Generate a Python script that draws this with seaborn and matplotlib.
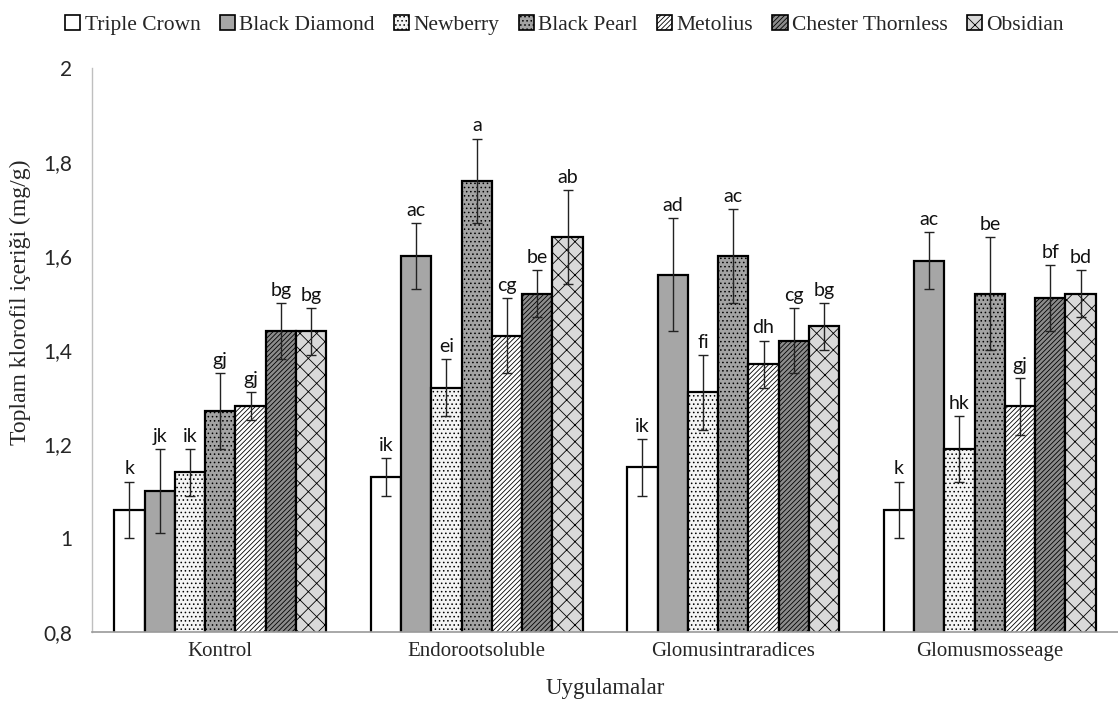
import matplotlib
matplotlib.use("Agg")
import matplotlib.pyplot as plt
from matplotlib.patches import Patch
import numpy as np
import pandas as pd
import seaborn as sns

# ---- data ----
treatments = ["Kontrol", "Endorootsoluble", "Glomusintraradices", "Glomusmosseage"]
varieties = ["Triple Crown", "Black Diamond", "Newberry", "Black Pearl",
             "Metolius", "Chester Thornless", "Obsidian"]

# chlorophyll means per variety, one value per treatment
triple_crown = [1.06, 1.13, 1.15, 1.06]
black_diamond = [1.10, 1.60, 1.56, 1.59]
newberry = [1.14, 1.32, 1.31, 1.19]
black_pearl = [1.27, 1.76, 1.60, 1.52]
metolius = [1.28, 1.43, 1.37, 1.28]
chester_thornless = [1.44, 1.52, 1.42, 1.51]
obsidian = [1.44, 1.64, 1.45, 1.52]

# standard errors
err_triple_crown = [0.06, 0.04, 0.06, 0.06]
err_black_diamond = [0.09, 0.07, 0.12, 0.06]
err_newberry = [0.05, 0.06, 0.08, 0.07]
err_black_pearl = [0.08, 0.09, 0.10, 0.12]
err_metolius = [0.03, 0.08, 0.05, 0.06]
err_chester_thornless = [0.06, 0.05, 0.07, 0.07]
err_obsidian = [0.05, 0.10, 0.05, 0.05]

# significance letters
let_triple_crown = ["k", "ik", "ik", "k"]
let_black_diamond = ["jk", "ac", "ad", "ac"]
let_newberry = ["ik", "ei", "fi", "hk"]
let_black_pearl = ["gj", "a", "ac", "be"]
let_metolius = ["gj", "cg", "dh", "gj"]
let_chester_thornless = ["bg", "be", "cg", "bf"]
let_obsidian = ["bg", "ab", "bg", "bd"]

y_ticks = [0.8, 1.0, 1.2, 1.4, 1.6, 1.8, 2.0]
y_tick_labels = ["0,8", "1", "1,2", "1,4", "1,6", "1,8", "2"]

means = [triple_crown, black_diamond, newberry, black_pearl,
         metolius, chester_thornless, obsidian]
errs = [err_triple_crown, err_black_diamond, err_newberry, err_black_pearl,
        err_metolius, err_chester_thornless, err_obsidian]
letters = [let_triple_crown, let_black_diamond, let_newberry, let_black_pearl,
           let_metolius, let_chester_thornless, let_obsidian]

rows = []
for v, m, e, l in zip(varieties, means, errs, letters):
    for t, mi, ei, li in zip(treatments, m, e, l):
        rows.append({"Uygulama": t, "Çeşit": v, "Değer": mi, "Hata": ei, "Harf": li})
df = pd.DataFrame(rows)

# fill colour and hatch per variety
fills = ["#ffffff", "#a6a6a6", "#f4f4f4", "#a3a3a3", "#ffffff", "#8c8c8c", "#d9d9d9"]
hatches = ["", "", "....", "....", "///////", "///////", "xx"]

sns.set_theme(style="white")
plt.rcParams["hatch.linewidth"] = 0.6
plt.rcParams["hatch.color"] = "black"

fig = plt.figure(figsize=(11.18, 7.04), dpi=100)
ax = fig.add_axes([0.0823, 0.1023, 0.9177, 0.8011])

sns.barplot(data=df, x="Uygulama", y="Değer", hue="Çeşit", order=treatments,
            hue_order=varieties, palette=fills, errorbar=None, width=0.826,
            edgecolor="black", linewidth=1.6, saturation=1, legend=False, ax=ax)

for cont, h, var in zip(ax.containers, hatches, varieties):
    sub = df[df["Çeşit"] == var].set_index("Uygulama").loc[treatments]
    xs = []
    for bar in cont.patches:
        bar.set_hatch(h)
        bar.set_edgecolor("black")
        xs.append(bar.get_x() + bar.get_width() / 2)
    ax.errorbar(xs, sub["Değer"].values, yerr=sub["Hata"].values, fmt="none",
                ecolor="#222222", elinewidth=1.0, capsize=3.4, capthick=1.0, zorder=5)
    for x, mv, ev, lt in zip(xs, sub["Değer"].values, sub["Hata"].values, sub["Harf"].values):
        ax.annotate(lt, (x, mv + ev), xytext=(0, 3), textcoords="offset points",
                    ha="center", va="bottom", fontsize=14, family="Lato", color="#111111")

ax.set_ylim(0.8, 2.0)
ax.set_xlim(-0.5, 3.5)
ax.set_yticks(y_ticks)
ax.set_yticklabels(y_tick_labels, family="Lato", fontsize=15)
ax.tick_params(axis="both", length=0)
ax.tick_params(axis="y", pad=14)
ax.tick_params(axis="x", pad=7)
for lab in ax.get_xticklabels():
    lab.set_family("Liberation Serif")
    lab.set_fontsize(15)

for s in ["top", "right"]:
    ax.spines[s].set_visible(False)
ax.spines["left"].set_color("#bfbfbf")
ax.spines["bottom"].set_color("#9a9a9a")
ax.spines["left"].set_linewidth(1.0)
ax.spines["bottom"].set_linewidth(1.2)

ax.set_xlabel("Uygulamalar", family="Liberation Serif", fontsize=16.5)
ax.xaxis.set_label_coords(0.5, -0.081)
ax.set_ylabel("Toplam klorofil içeriği (mg/g)", family="Liberation Serif", fontsize=17)
ax.yaxis.set_label_coords(-0.059, 0.585)

handles = [Patch(facecolor=f, edgecolor="black", hatch=h, linewidth=1.2)
           for f, h in zip(fills, hatches)]
fig.legend(handles, varieties, loc="upper center", bbox_to_anchor=(0.505, 1.0),
           ncol=7, frameon=False, prop={"family": "Liberation Serif", "size": 15.5},
           handlelength=0.7, handleheight=0.7, handletextpad=0.2, columnspacing=0.9,
           borderaxespad=0.3)

fig.savefig("out.png", dpi=100)
